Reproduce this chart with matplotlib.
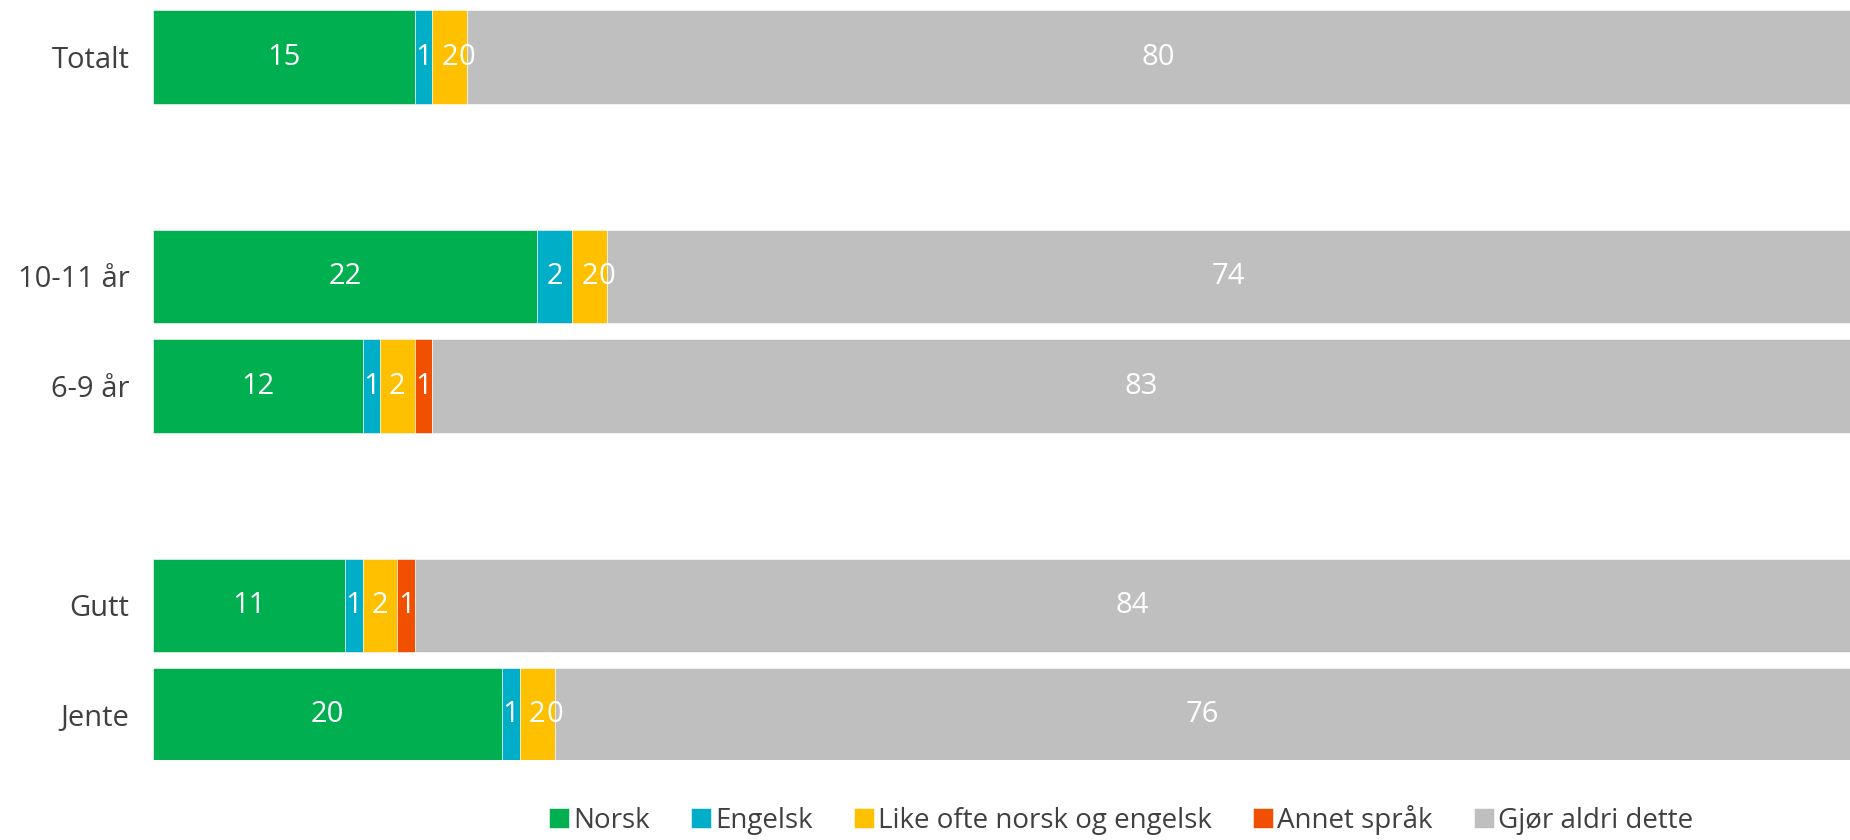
import matplotlib
matplotlib.use("Agg")
import matplotlib.pyplot as plt
import numpy as np

plt.rcParams['font.family'] = ['Open Sans', 'DejaVu Sans']

# data (percent)
groups = ['Totalt', '10-11 år', '6-9 år', 'Gutt', 'Jente']
rows = [0, 2, 3, 5, 6]   # blank slots at 1 and 4
series = ['Norsk', 'Engelsk', 'Like ofte norsk og engelsk', 'Annet språk', 'Gjør aldri dette']
norsk   = [15, 22, 12, 11, 20]
engelsk = [1, 2, 1, 1, 1]
like    = [2, 2, 2, 2, 2]
annet   = [0, 0, 1, 1, 0]
aldri   = [80, 74, 83, 84, 76]
colors = ['#00B050', '#00AEC7', '#FFC000', '#F05000', '#BFBFBF']

fig = plt.figure(figsize=(18.5, 8.4), dpi=100)
ax = fig.add_axes([153/1850, 1 - 760/840, 1 - 153/1850, 760/840])

left = np.zeros(len(groups))
for name, vals, col in zip(series, [norsk, engelsk, like, annet, aldri], colors):
    bars = ax.barh(rows, vals, left=left, height=0.85, color=col, label=name,
                   edgecolor='white', linewidth=0.4)
    ax.bar_label(bars, labels=[str(v) for v in vals], label_type='center',
                 color='white', fontsize=21)
    left += np.array(vals)

ax.set_xlim(0, 97.2)
ax.set_ylim(6.41, -0.52)
ax.set_yticks(rows)
ax.set_yticklabels(groups, fontsize=21, color='#404040')
ax.tick_params(axis='y', length=0, pad=17)
ax.set_xticks([])
for s in ax.spines.values():
    s.set_visible(False)

fig.legend(loc='center', bbox_to_anchor=(0.606, 0.024), ncol=5, frameon=False,
           fontsize=20, handlelength=0.7, handleheight=0.7, handletextpad=0.15,
           columnspacing=1.5, labelcolor='#404040', borderpad=0.1)

fig.savefig('out.png', dpi=100)
